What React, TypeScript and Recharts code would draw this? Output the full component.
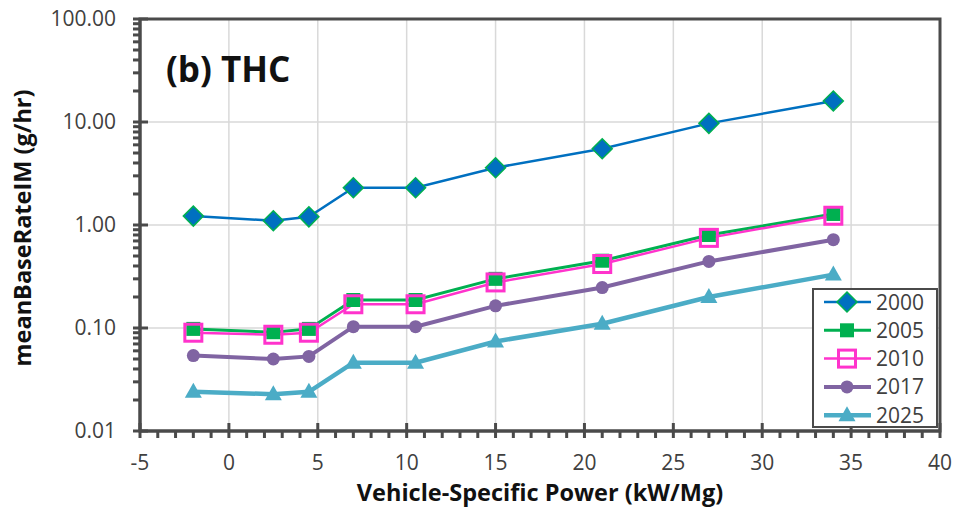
import React from 'react';
import { LineChart, Line, XAxis, YAxis, CartesianGrid, Legend, ReferenceArea } from 'recharts';

// VSP bins (kW/Mg)
const vsp = [-2, 2.5, 4.5, 7, 10.5, 15, 21, 27, 34];

// meanBaseRateIM (g/hr) by model year
const y2000 = [1.22, 1.1, 1.2, 2.3, 2.3, 3.6, 5.5, 9.7, 16.0];
const y2005 = [0.098, 0.091, 0.098, 0.187, 0.187, 0.3, 0.45, 0.8, 1.28];
const y2010 = [0.09, 0.086, 0.09, 0.17, 0.17, 0.277, 0.418, 0.75, 1.23];
const y2017 = [0.054, 0.05, 0.053, 0.103, 0.103, 0.164, 0.247, 0.443, 0.72];
const y2025 = [0.024, 0.0228, 0.024, 0.046, 0.046, 0.074, 0.11, 0.2, 0.33];

const seriesNames = ['2000', '2005', '2010', '2017', '2025'];

const xTicks = [-5, 0, 5, 10, 15, 20, 25, 30, 35, 40];
const xAllTicks = Array.from({ length: 46 }, (_, i) => i - 5);
const yTicks = [0.01, 0.1, 1, 10, 100];
const yAllTicks = [0.01, 0.1, 1, 10]
  .flatMap(d => [1, 2, 3, 4, 5, 6, 7, 8, 9].map(m => +(d * m).toPrecision(2)))
  .concat([100]);

const data = vsp.map((x, i) => ({
  vsp: x,
  '2000': y2000[i],
  '2005': y2005[i],
  '2010': y2010[i],
  '2017': y2017[i],
  '2025': y2025[i],
}));

const AXIS = '#4a4a4a';
const FONT = '"Open Sans", sans-serif';

const styles: Record<string, { color: string; width: number }> = {
  '2000': { color: '#0070C0', width: 2.5 },
  '2005': { color: '#00B050', width: 3 },
  '2010': { color: '#FF33CC', width: 2.5 },
  '2017': { color: '#8064A2', width: 4 },
  '2025': { color: '#4BACC6', width: 4.5 },
};

const Marker = ({ name, cx, cy }: { name: string; cx: number; cy: number }) => {
  if (name === '2000') {
    return (
      <polygon
        points={`${cx},${cy - 10} ${cx + 10},${cy} ${cx},${cy + 10} ${cx - 10},${cy}`}
        fill="#0070C0"
        stroke="#00B050"
        strokeWidth={1.5}
      />
    );
  }
  if (name === '2005') return <rect x={cx - 7} y={cy - 7} width={14} height={14} fill="#00B050" />;
  if (name === '2010')
    return <rect x={cx - 8.5} y={cy - 8.5} width={17} height={17} fill="none" stroke="#FF33CC" strokeWidth={3} />;
  if (name === '2017') return <circle cx={cx} cy={cy} r={6.5} fill="#8064A2" />;
  return <polygon points={`${cx},${cy - 9} ${cx + 8.5},${cy + 6} ${cx - 8.5},${cy + 6}`} fill="#4BACC6" />;
};

const makeDot = (name: string) => (props: any) => {
  const { cx, cy, index } = props;
  if (cx == null || cy == null) return <g key={`${name}-${index}`} />;
  return (
    <g key={`${name}-${index}`}>
      <Marker name={name} cx={cx} cy={cy} />
    </g>
  );
};

// major ticks cross the axis, minor ticks sit outside only
const XTick = ({ x, y, payload }: any) => {
  const v = payload.value;
  const major = xTicks.includes(v);
  return (
    <g>
      <line x1={x} x2={x} y1={major ? y - 8 : y} y2={y + 7} stroke={AXIS} strokeWidth={3} />
      {major && (
        <text x={x} y={y + 24} dy="0.71em" textAnchor="middle" fontSize={21} fontFamily={FONT} fill="#404040">
          {v}
        </text>
      )}
    </g>
  );
};

const YTick = ({ x, y, payload }: any) => {
  const v = payload.value;
  const major = yTicks.includes(v);
  return (
    <g>
      <line x1={x - 7} x2={major ? x + 8 : x} y1={y} y2={y} stroke={AXIS} strokeWidth={3} />
      {major && (
        <text x={x - 24} y={y} dy="0.355em" textAnchor="end" fontSize={21} fontFamily={FONT} fill="#404040">
          {v.toFixed(2)}
        </text>
      )}
    </g>
  );
};

const LegendBox = ({ payload }: any) => {
  const items = (payload || []).map((p: any) => String(p.dataKey));
  return (
    <svg width={126} height={140} style={{ display: 'block' }}>
      <rect x={1} y={1} width={124} height={138} fill="#fff" stroke={AXIS} strokeWidth={2} />
      {items.map((name: string, i: number) => {
        const y = 14 + i * 28.3;
        return (
          <g key={name}>
            <line x1={12} x2={59} y1={y} y2={y} stroke={styles[name].color} strokeWidth={styles[name].width} />
            <Marker name={name} cx={35} cy={y} />
            <text x={64} y={y + 7.5} fontSize={21} fontFamily={FONT} fill="#404040">
              {name}
            </text>
          </g>
        );
      })}
    </svg>
  );
};

const YTitle = () => (
  <text
    x={31}
    y={228}
    transform="rotate(-90 31 228)"
    textAnchor="middle"
    fontSize={23.5}
    fontWeight="bold"
    fontFamily={FONT}
    fill="#111"
  >
    meanBaseRateIM (g/hr)
  </text>
);

const App: React.FC = () => {
  return (
    <div style={{ position: 'absolute', left: 0, top: 0, width: 958, height: 514, background: '#fff' }}>
      <LineChart width={958} height={514} data={data} margin={{ top: 19, right: 18, bottom: 0, left: 0 }}>
        <CartesianGrid stroke="#d9d9d9" strokeWidth={1.5} horizontalValues={yTicks} verticalValues={xTicks} />
        <XAxis
          dataKey="vsp"
          type="number"
          domain={[-5, 40]}
          ticks={xAllTicks}
          interval={0}
          height={83}
          tickSize={0}
          tickMargin={0}
          axisLine={{ stroke: AXIS, strokeWidth: 3 }}
          tickLine={false}
          tick={<XTick />}
          label={{
            value: 'Vehicle-Specific Power (kW/Mg)',
            position: 'insideBottom',
            offset: 13,
            style: { fontSize: 23.5, fontWeight: 'bold', fontFamily: FONT, fill: '#111' },
          }}
        />
        <YAxis
          type="number"
          scale="log"
          domain={[0.01, 100]}
          allowDataOverflow
          ticks={yAllTicks}
          interval={0}
          width={140}
          tickSize={0}
          tickMargin={0}
          axisLine={{ stroke: AXIS, strokeWidth: 3 }}
          tickLine={false}
          tick={<YTick />}
          label={{ content: () => <YTitle /> }}
        />
        <ReferenceArea x1={-5} x2={40} y1={0.01} y2={100} fill="none" stroke={AXIS} strokeWidth={3} />
        {seriesNames.map(name => (
          <Line
            key={name}
            dataKey={name}
            name={name}
            type="linear"
            stroke={styles[name].color}
            strokeWidth={styles[name].width}
            dot={makeDot(name)}
            activeDot={false}
            isAnimationActive={false}
          />
        ))}
        <Legend
          layout="vertical"
          align="center"
          verticalAlign="middle"
          content={<LegendBox />}
          wrapperStyle={{ left: 812, top: 288, width: 126, height: 140 }}
        />
      </LineChart>
      <svg width={958} height={514} style={{ position: 'absolute', left: 0, top: 0, pointerEvents: 'none' }}>
        <text x={166} y={82} fontSize={35} fontWeight="bold" fontFamily={FONT} fill="#111">
          (b) THC
        </text>
      </svg>
    </div>
  );
};

export default App;
